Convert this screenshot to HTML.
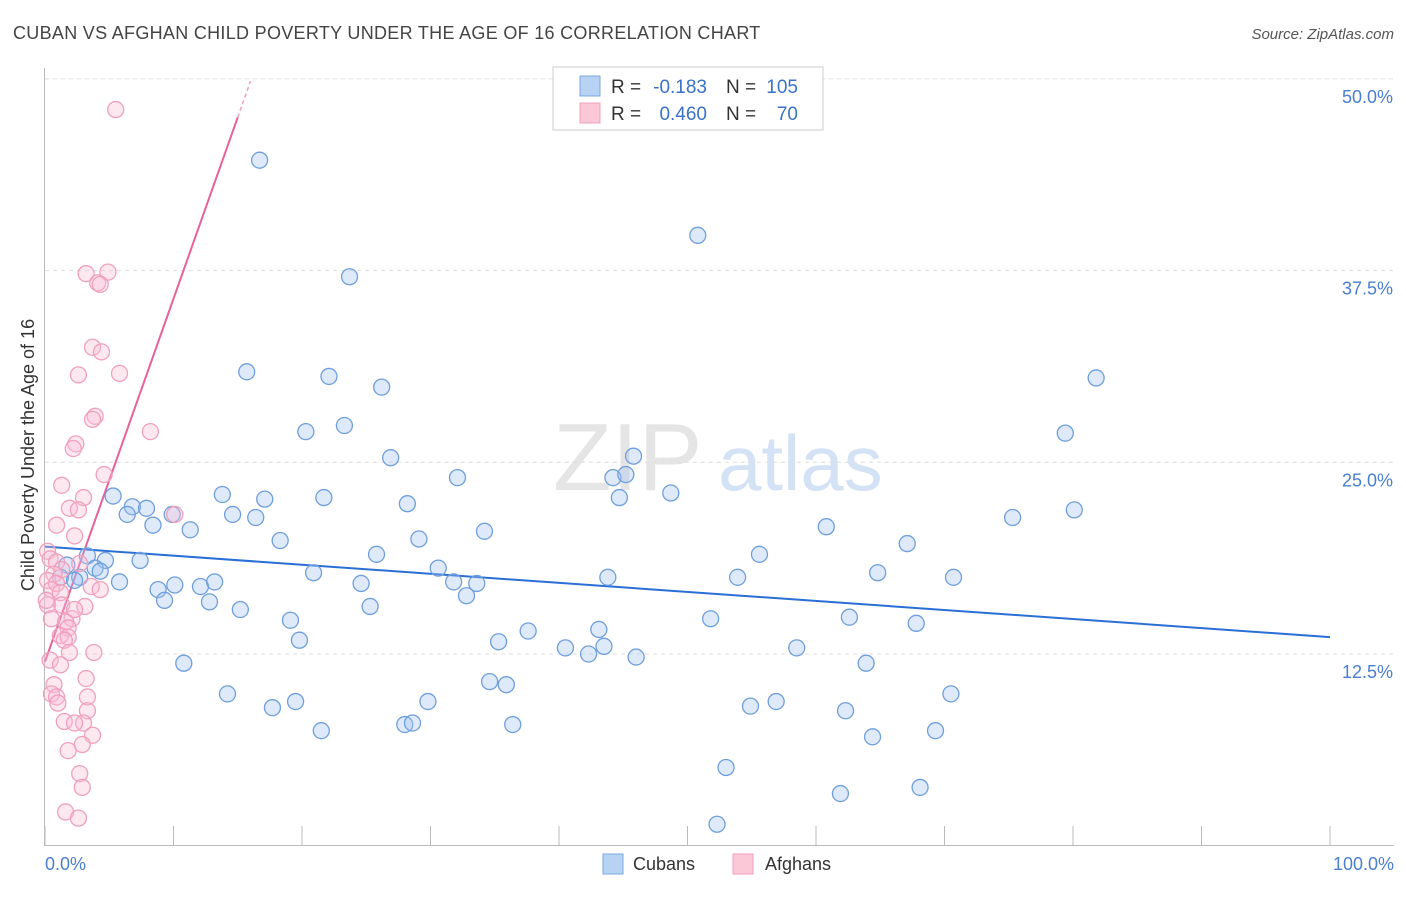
<!DOCTYPE html>
<html><head><meta charset="utf-8"><style>
body{margin:0;background:#fff;font-family:"Liberation Sans",sans-serif}
svg text{font-family:"Liberation Sans",sans-serif}
</style></head><body>
<svg id="chart" width="1406" height="892">
<text x="13" y="39" font-size="18" fill="#444" letter-spacing="0.3">CUBAN VS AFGHAN CHILD POVERTY UNDER THE AGE OF 16 CORRELATION CHART</text>
<text x="1394" y="39" font-size="15" fill="#555" font-style="italic" text-anchor="end">Source: ZipAtlas.com</text>
<g opacity="0.5"><text x="553" y="490" font-size="96" font-family="Liberation Serif" fill="#ccc">ZIP</text><text x="718" y="490" font-size="78" fill="#aac6ec">atlas</text></g>
<g id="grid"></g><g id="axes"></g><g id="lines"></g><g id="pts"></g>
<text transform="translate(34,455) rotate(-90)" font-size="18" fill="#333" text-anchor="middle">Child Poverty Under the Age of 16</text>
<g>
<rect x="553" y="67" width="270" height="63" fill="#fff" stroke="#ccc"/>
<rect x="580" y="76" width="20" height="20" fill="#b8d2f4" stroke="#7aa8e0"/>
<rect x="580" y="103" width="20" height="20" fill="#fbc8d8" stroke="#f0a0bc"/>
<text x="611" y="93" font-size="19" fill="#333">R =</text>
<text x="707" y="93" font-size="19" fill="#3a72c8" text-anchor="end">-0.183</text>
<text x="726" y="93" font-size="19" fill="#333">N =</text>
<text x="798" y="93" font-size="19" fill="#3a72c8" text-anchor="end">105</text>
<text x="611" y="120" font-size="19" fill="#333">R =</text>
<text x="707" y="120" font-size="19" fill="#3a72c8" text-anchor="end">0.460</text>
<text x="726" y="120" font-size="19" fill="#333">N =</text>
<text x="798" y="120" font-size="19" fill="#3a72c8" text-anchor="end">70</text>
</g>
<g>
<rect x="603" y="854" width="20" height="20" fill="#b8d2f4" stroke="#7aa8e0"/>
<text x="633" y="870" font-size="18" fill="#333">Cubans</text>
<rect x="733" y="854" width="20" height="20" fill="#fbc8d8" stroke="#f0a0bc"/>
<text x="765" y="870" font-size="18" fill="#333">Afghans</text>
</g>
</svg>
<script>
const yTicks=[12.5,25,37.5,50];
const yTickLabels=["12.5%","25.0%","37.5%","50.0%"];
const xTicks=[0,10,20,30,40,50,60,70,80,90,100];
const cubanX=[16.7,50.8,23.7,15.7,22.1,26.2,81.8,20.3,23.3,79.4,26.9,45.8,32.1,44.2,45.2,5.3,13.8,48.7,17.1,21.7,44.7,28.2,6.8,7.9,6.4,9.9,14.6,16.4,75.3,80.1,8.4,11.3,34.2,60.8,18.3,29.1,67.1,3.3,25.8,55.6,4.7,7.4,1.7,3.9,4.3,2.7,1.2,2.3,20.9,30.6,43.8,53.9,64.8,70.7,5.8,10.1,8.8,12.1,13.2,24.6,31.8,33.6,32.8,9.3,12.8,15.2,25.3,51.8,19.1,62.6,67.8,37.6,43.1,19.8,35.3,40.5,43.5,58.5,42.3,46.0,10.8,63.9,34.6,35.9,14.2,70.5,19.5,29.8,17.7,56.9,54.9,62.3,21.5,28.0,28.6,36.4,69.3,64.4,53.0,61.9,68.1,52.3];
const cubanY=[44.7,39.8,37.1,30.9,30.6,29.9,30.5,27.0,27.4,26.9,25.3,25.4,24.0,24.0,24.2,22.8,22.9,23.0,22.6,22.7,22.7,22.3,22.1,22.0,21.6,21.6,21.6,21.4,21.4,21.9,20.9,20.6,20.5,20.8,19.9,20.0,19.7,18.9,19.0,19.0,18.6,18.6,18.3,18.1,17.9,17.5,17.5,17.3,17.8,18.1,17.5,17.5,17.8,17.5,17.2,17.0,16.7,16.9,17.2,17.1,17.2,17.1,16.3,16.0,15.9,15.4,15.6,14.8,14.7,14.9,14.5,14.0,14.1,13.4,13.3,12.9,13.0,12.9,12.5,12.3,11.9,11.9,10.7,10.5,9.9,9.9,9.4,9.4,9.0,9.4,9.1,8.8,7.5,7.9,8.0,7.9,7.5,7.1,5.1,3.4,3.8,1.4];
const afghanX=[5.5,3.2,4.9,4.1,4.3,3.7,4.4,2.6,5.8,3.9,3.7,8.2,2.4,2.2,4.6,1.3,3.0,1.9,2.6,10.1,0.9,2.3,0.2,0.4,0.9,2.7,1.3,0.7,0.2,0.9,0.5,1.2,3.6,0.2,1.3,3.1,0.5,2.1,1.6,1.8,1.2,1.8,1.5,1.9,3.8,0.4,1.2,3.2,0.7,0.5,0.9,3.3,1.0,3.3,1.5,3.0,2.3,3.7,2.9,1.8,2.7,2.9,1.6,2.6,0.1,4.3,2.3];
const afghanY=[48.0,37.3,37.4,36.7,36.6,32.5,32.2,30.7,30.8,28.0,27.8,27.0,26.2,25.9,24.2,23.5,22.7,22.0,21.9,21.6,20.9,20.2,19.2,18.7,18.5,18.4,18.0,17.7,17.3,17.1,16.7,16.5,16.9,15.7,15.7,15.6,14.8,14.8,14.6,14.2,13.7,13.6,13.4,12.6,12.6,12.1,11.8,10.9,10.5,9.9,9.7,9.7,9.3,8.8,8.1,8.0,8.0,7.2,6.6,6.2,4.7,3.8,2.2,1.8,16.0,16.7,15.4];
const cubanTrend=[19.5,13.6];
const afghanTrend=[12.0,47.5];
const afghanTrendEnd=15.0;

const NS="http://www.w3.org/2000/svg";
const X=v=>45+v*12.85;
const Y=v=>845.7-v*15.336;
function mk(tag,attrs,parent){const e=document.createElementNS(NS,tag);for(const k in attrs)e.setAttribute(k,attrs[k]);document.getElementById(parent).appendChild(e);return e;}
yTicks.forEach((t,i)=>{
 const g=mk('line',{x1:45,x2:1394,y1:Y(t),y2:Y(t),stroke:'#ddd','stroke-dasharray':'4,4'},'grid');
 
 
 const l=mk('text',{x:1393,y:Y(t)+24,'font-size':18,fill:'#4a7fd0','text-anchor':'end'},'axes');
 l.textContent=yTickLabels[i];
 
 
});
const ax=mk('line',{x1:45,x2:1394,y1:845.5,y2:845.5,stroke:'#bbb'},'axes');


const ay=mk('line',{x1:44.5,x2:44.5,y1:68,y2:846,stroke:'#bbb'},'axes');


xTicks.forEach(t=>{
 const k=mk('line',{x1:X(t),x2:X(t),y1:826,y2:846,stroke:'#bbb'},'axes');
 
 
});
const x0=mk('text',{x:45,y:870,'font-size':18,fill:'#4a7fd0'},'axes');x0.textContent='0.0%';


const x1=mk('text',{x:1394,y:870,'font-size':18,fill:'#4a7fd0','text-anchor':'end'},'axes');x1.textContent='100.0%';


cubanX.forEach((v,i)=>{
 const c=mk('circle',{cx:X(v),cy:Y(cubanY[i]),r:8,fill:'rgba(160,196,240,0.35)',stroke:'#6f9fdc','stroke-width':1.3},'pts');
 
 
});
afghanX.forEach((v,i)=>{
 const c=mk('circle',{cx:X(v),cy:Y(afghanY[i]),r:8,fill:'rgba(248,190,212,0.35)',stroke:'#f0a0bc','stroke-width':1.3},'pts');
 
 
});
const bl=mk('line',{x1:X(0),y1:Y(cubanTrend[0]),x2:X(100),y2:Y(cubanTrend[1]),stroke:'#2a6fd6','stroke-width':2},'lines');


const slope=(afghanTrend[1]-afghanTrend[0])/afghanTrendEnd;
const pl=mk('line',{x1:X(0),y1:Y(afghanTrend[0]),x2:X(afghanTrendEnd),y2:Y(afghanTrend[1]),stroke:'#e8629a','stroke-width':2},'lines');


const pd=mk('line',{x1:X(afghanTrendEnd),y1:Y(afghanTrend[1]),x2:X(afghanTrendEnd+1),y2:Y(afghanTrend[1]+slope),stroke:'#f0a0bc','stroke-width':1.5,'stroke-dasharray':'4,3'},'lines');


</script>
</body></html>
